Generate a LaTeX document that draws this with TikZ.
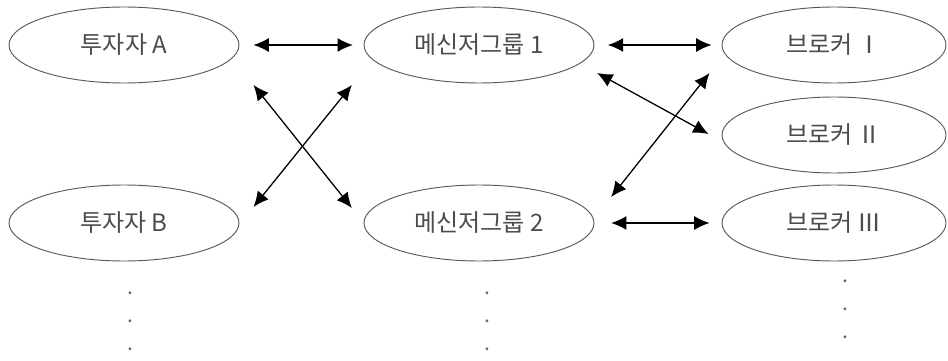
\documentclass[tikz,border=0pt]{standalone}
\usepackage{fontspec}
\setmainfont{Noto Sans CJK KR}
\usetikzlibrary{arrows.meta,shapes.geometric,calc}

\begin{document}
\begin{tikzpicture}[>={Latex[length=4.6mm,width=4.2mm]},line width=1.1pt,node distance=10.65cm,
    party/.style={ellipse,draw=black!65,line width=0.8pt,minimum width=6.9cm,minimum height=2.28cm,inner sep=0pt,text=black!70,font=\fontsize{20.5}{22}\selectfont},
    broker/.style={party,minimum width=6.72cm},
    more/.style={align=center,inner sep=0pt,text=black!60,font=\fontsize{18}{24}\selectfont}]
    \useasboundingbox (-3.72,1.35) rectangle (24.72,-9.48);

    \node[party] (a) {투자자 A};
    \node[party] (m1) [right of=a] {메신저그룹 1};
    \node[broker] (b1) [right of=m1] {브로커 Ⅰ};
    \node[broker] (b2) [node distance=2.7cm, below of=b1] {브로커 Ⅱ};
    \node[party] (b) [node distance=5.34cm, below of=a] {투자자 B};
    \node[party] (m2) [right of=b] {메신저그룹 2};
    \node[broker] (b3) [right of=m2] {브로커 Ⅲ};

    \node[more] (bmore) [node distance=2.95cm, below of=b, xshift=0.18cm] {.\\.\\.};
    \node[more] (m2more) [node distance=2.95cm, below of=m2, xshift=0.24cm] {.\\.\\.};
    \node[more] (b3more) [node distance=2.6cm, below of=b3, xshift=0.33cm] {.\\.\\.};

    \path[<->] (a) edge [shorten <=0.42cm, shorten >=0.32cm] (m1);
    \path[<->] (m1) edge [shorten <=0.4cm, shorten >=0.3cm] (b1);
    \path[<->] (m2) edge [shorten <=0.5cm, shorten >=0.36cm] (b3);
    \path[<->] ($(a.east)+(0.42,-1.2)$) edge ($(m2.west)+(-0.35,0.45)$);
    \path[<->] ($(b.east)+(0.42,0.48)$) edge ($(m1.west)+(-0.35,-1.2)$);
    \path[<->] ($(m1.east)+(0.08,-0.84)$) edge ($(b2.west)+(-0.39,0.03)$);
    \path[<->] ($(m2.east)+(0.5,0.78)$) edge ($(b1.west)+(-0.36,-0.84)$);
\end{tikzpicture}
\end{document}
